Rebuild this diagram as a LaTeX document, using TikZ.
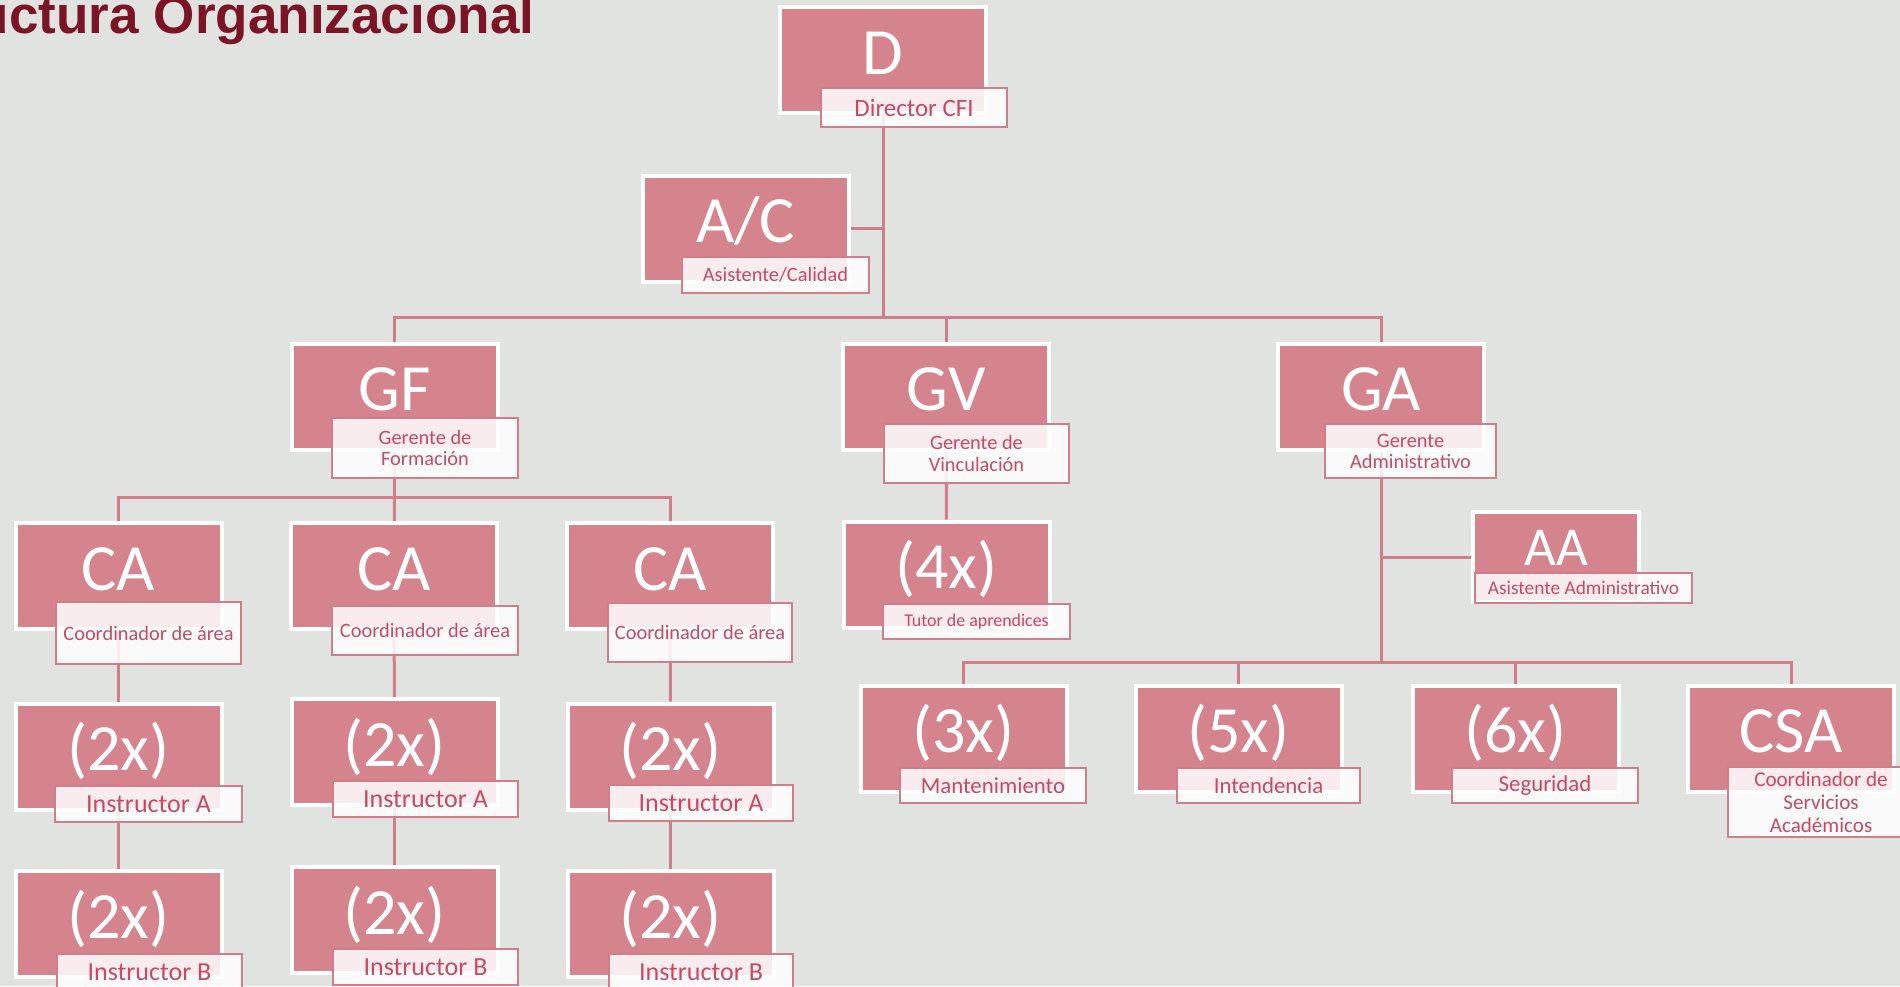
\documentclass[tikz,border=0pt]{standalone}
\usepackage{fontspec}
\setmainfont{Carlito}
\newfontfamily\titlefont{Liberation Sans}
\definecolor{bggrey}{HTML}{E1E3E0}
\definecolor{boxpink}{HTML}{D5848E}
\definecolor{linepink}{HTML}{D27E8A}
\definecolor{lbltext}{HTML}{C54A62}
\definecolor{titlered}{HTML}{7B1525}
\pgfdeclarelayer{bglayer}
\pgfdeclarelayer{edgelayer}
\pgfdeclarelayer{nodelayer}
\pgfsetlayers{bglayer,edgelayer,nodelayer,main}
\tikzstyle{box}=[rectangle,fill=boxpink,draw=white,line width=0.4mm,inner sep=0pt,minimum width=2.06cm,minimum height=1.06cm,text=white,font=\fontsize{18.8}{20}\selectfont,text height=0.48cm,text depth=0.2cm]
\tikzstyle{lbl}=[rectangle,fill=white,fill opacity=0.85,text opacity=1,draw=linepink,line width=0.25mm,text=lbltext,inner sep=0pt,align=center,minimum width=1.86cm,minimum height=0.36cm,font=\fontsize{5.8}{6.0}\selectfont]
\tikzstyle{conn}=[draw=linepink,line width=0.3mm]
\tikzstyle{heading}=[anchor=base west,inner sep=0pt,text=titlered,font=\titlefont\bfseries\fontsize{15.1}{16}\selectfont]

\begin{document}
\begin{tikzpicture}
	\useasboundingbox (0, 0) rectangle (19, -9.86);
	\begin{pgfonlayer}{bglayer}
		\fill [bggrey] (0, 0) rectangle (19, -9.86);
	\end{pgfonlayer}
	\begin{pgfonlayer}{nodelayer}
		\node [style=box] (d) at (8.83, -0.6) {D};
		\node [style=lbl, minimum height=0.39cm, font=\fontsize{7.1}{8}\selectfont] (d-lbl) at (9.14, -1.075) {Director CFI};
		\node [style=box] (ac) at (7.455, -2.285) {A/C};
		\node [style=lbl, minimum width=1.87cm] (ac-lbl) at (7.755, -2.75) {Asistente/Calidad};
		\node [style=box] (gf) at (3.945, -3.965) {GF};
		\node [style=lbl, minimum height=0.6cm] (gf-lbl) at (4.25, -4.48) {Gerente de\\Formación};
		\node [style=box] (gv) at (9.46, -3.965) {GV};
		\node [style=lbl, minimum width=1.85cm, minimum height=0.59cm] (gv-lbl) at (9.765, -4.535) {Gerente de\\Vinculación};
		\node [style=box] (ga) at (13.81, -3.965) {GA};
		\node [style=lbl, minimum width=1.71cm, minimum height=0.54cm] (ga-lbl) at (14.105, -4.51) {Gerente\\Administrativo};
		\node [style=box, minimum width=1.66cm, minimum height=0.9cm, font=\fontsize{15.6}{17}\selectfont, text height=0.4cm, text depth=0.24cm] (aa) at (15.56, -5.57) {AA};
		\node [style=lbl, minimum width=2.17cm, minimum height=0.3cm, font=\fontsize{5.5}{6}\selectfont] (aa-lbl) at (15.835, -5.88) {Asistente Administrativo};
		\node [style=box] (ca1) at (1.185, -5.76) {CA};
		\node [style=lbl, minimum width=1.85cm, minimum height=0.62cm] (ca1-lbl) at (1.485, -6.33) {Coordinador de área};
		\node [style=box] (ca2) at (3.94, -5.76) {CA};
		\node [style=lbl, minimum height=0.49cm] (ca2-lbl) at (4.25, -6.305) {Coordinador de área};
		\node [style=box] (ca3) at (6.7, -5.76) {CA};
		\node [style=lbl, minimum width=1.84cm, minimum height=0.59cm] (ca3-lbl) at (7.0, -6.325) {Coordinador de área};
		\node [style=box] (ia1) at (1.185, -7.565) {(2x)};
		\node [style=lbl, minimum width=1.87cm, font=\fontsize{7.4}{8}\selectfont] (ia1-lbl) at (1.485, -8.04) {Instructor A};
		\node [style=box] (ia2) at (3.945, -7.52) {(2x)};
		\node [style=lbl, minimum width=1.85cm, font=\fontsize{7.4}{8}\selectfont] (ia2-lbl) at (4.255, -7.99) {Instructor A};
		\node [style=box] (ia3) at (6.705, -7.565) {(2x)};
		\node [style=lbl, minimum width=1.84cm, font=\fontsize{7.4}{8}\selectfont] (ia3-lbl) at (7.01, -8.03) {Instructor A};
		\node [style=box] (ib1) at (1.185, -9.24) {(2x)};
		\node [style=lbl, minimum width=1.85cm, font=\fontsize{7.4}{8}\selectfont] (ib1-lbl) at (1.495, -9.72) {Instructor B};
		\node [style=box] (ib2) at (3.945, -9.2) {(2x)};
		\node [style=lbl, minimum width=1.85cm, font=\fontsize{7.4}{8}\selectfont] (ib2-lbl) at (4.255, -9.67) {Instructor B};
		\node [style=box] (ib3) at (6.705, -9.24) {(2x)};
		\node [style=lbl, minimum width=1.84cm, font=\fontsize{7.4}{8}\selectfont] (ib3-lbl) at (7.01, -9.72) {Instructor B};
		\node [style=box] (tutor) at (9.465, -5.745) {(4x)};
		\node [style=lbl, minimum width=1.87cm, minimum height=0.35cm, font=\fontsize{5.1}{6}\selectfont] (tutor-lbl) at (9.765, -6.215) {Tutor de aprendices};
		\node [style=box] (mant) at (9.635, -7.385) {(3x)};
		\node [style=lbl, minimum height=0.35cm, font=\fontsize{6.5}{7}\selectfont] (mant-lbl) at (9.93, -7.855) {Mantenimiento};
		\node [style=box] (intend) at (12.385, -7.385) {(5x)};
		\node [style=lbl, minimum width=1.83cm, minimum height=0.35cm, font=\fontsize{6.5}{7}\selectfont] (intend-lbl) at (12.685, -7.855) {Intendencia};
		\node [style=box] (seg) at (15.155, -7.385) {(6x)};
		\node [style=lbl, minimum height=0.35cm, font=\fontsize{6.5}{7}\selectfont] (seg-lbl) at (15.45, -7.855) {Seguridad};
		\node [style=box] (csa) at (17.91, -7.385) {CSA};
		\node [style=lbl, minimum height=0.7cm, font=\fontsize{6.0}{6.5}\selectfont] (csa-lbl) at (18.21, -8.02) {Coordinador de\\Servicios\\Académicos};
	\end{pgfonlayer}
	\begin{pgfonlayer}{edgelayer}
		\coordinate (bus) at (8.83, -3.17);
		\coordinate (fbus) at (3.945, -4.97);
		\coordinate (abus) at (13.81, -6.62);
		\draw [style=conn] (d) -- (bus);
		\draw [style=conn] (ac) -- (ac -| d);
		\draw [style=conn] (bus) -| (gf);
		\draw [style=conn] (bus) -| (gv);
		\draw [style=conn] (bus) -| (ga);
		\draw [style=conn] (gf) -- (fbus);
		\draw [style=conn] (fbus) -| (ca1);
		\draw [style=conn] (fbus) -- (ca2);
		\draw [style=conn] (fbus) -| (ca3);
		\draw [style=conn] (ca1) -- (ia1);
		\draw [style=conn] (ca2) -- (ia2);
		\draw [style=conn] (ca3) -- (ia3);
		\draw [style=conn] (ia1) -- (ib1);
		\draw [style=conn] (ia2) -- (ib2);
		\draw [style=conn] (ia3) -- (ib3);
		\draw [style=conn] (gv) -- (tutor);
		\draw [style=conn] (ga) -- (abus);
		\draw [style=conn] (aa) -- (aa -| ga);
		\draw [style=conn] (abus) -| (mant);
		\draw [style=conn] (abus) -| (intend);
		\draw [style=conn] (abus) -| (seg);
		\draw [style=conn] (abus) -| (csa);
	\end{pgfonlayer}
	\node [style=heading] (title) at (-1.27, -0.33) {Estructura Organizacional};
\end{tikzpicture}
\end{document}
